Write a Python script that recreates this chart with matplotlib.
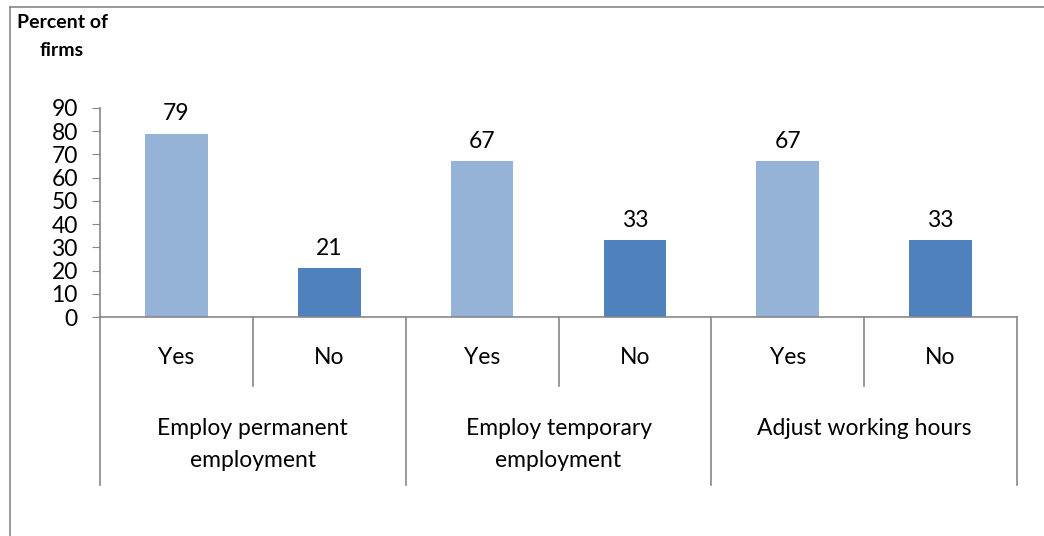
import matplotlib.pyplot as plt
from matplotlib.lines import Line2D

plt.rcParams['font.family'] = ['Lato', 'DejaVu Sans']

groups = ['Employ permanent\nemployment', 'Employ temporary\nemployment', 'Adjust working hours']
answers = ['Yes', 'No']
values = [79, 21, 67, 33, 67, 33]
colors = ['#95B3D7', '#4F81BD']
yticks = [0, 10, 20, 30, 40, 50, 60, 70, 80, 90]

grey = '#878787'
fs = 16.5

fig = plt.figure(figsize=(10.44, 5.36), dpi=100)
ax = fig.add_axes([100 / 1044, 1 - 317 / 536, 917 / 1044, 209 / 536])

n = len(values)
xs = [i + 0.5 for i in range(n)]
bar_colors = [colors[i % 2] for i in range(n)]
bars = ax.bar(xs, values, width=0.41, color=bar_colors)
for b, v in zip(bars, values):
    ax.annotate(str(v), (b.get_x() + b.get_width() / 2, v), xytext=(0, 7),
                textcoords='offset points', ha='center', va='bottom', fontsize=fs)

ax.set_xlim(0, n)
ax.set_ylim(0, 90)
ax.set_yticks(yticks)
ax.tick_params(axis='y', labelsize=fs, length=6, color=grey, pad=10)
ax.set_xticks([])
for s in ['top', 'right']:
    ax.spines[s].set_visible(False)
ax.spines['left'].set_color(grey)
ax.spines['bottom'].set_color(grey)
ax.spines['left'].set_linewidth(1.2)
ax.spines['bottom'].set_linewidth(1.2)

# two-level category axis below the bars
tr = ax.get_xaxis_transform()
for i in range(n + 1):
    low = -0.805 if i % 2 == 0 else -0.33
    ax.plot([i, i], [0, low], transform=tr, color=grey, lw=1.2, clip_on=False)
for i, x in enumerate(xs):
    ax.text(x, -0.195, answers[i % 2], transform=tr, ha='center', va='center', fontsize=fs)
for g, name in enumerate(groups):
    ax.text(2 * g + 1, -0.485, name, transform=tr, ha='center', va='top',
            fontsize=fs, linespacing=1.6)

fig.text(17 / 1044, 1 - 23 / 536, 'Percent of', fontsize=14, fontweight='bold', va='center', ha='left')
fig.text(62 / 1044, 1 - 51 / 536, 'firms', fontsize=14, fontweight='bold', va='center', ha='center')

# outer chart border (top and left)
fig.add_artist(Line2D([10 / 1044, 1], [1 - 7 / 536, 1 - 7 / 536], color=grey, lw=1.2))
fig.add_artist(Line2D([10 / 1044, 10 / 1044], [1 - 7 / 536, 0], color=grey, lw=1.2))

fig.savefig('out.png', dpi=100, facecolor='white')
